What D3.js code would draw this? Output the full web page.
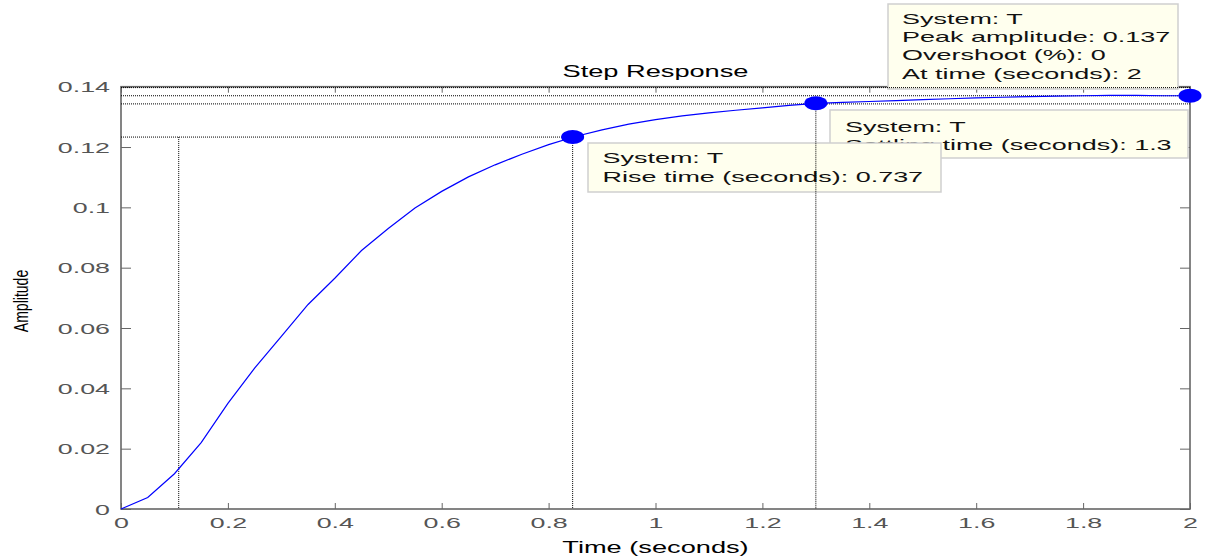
<!DOCTYPE html>
<html>
<head>
<meta charset="utf-8">
<script src="https://cdn.jsdelivr.net/npm/d3@7"></script>
<style>
  body { margin: 0; background: #fff; }
  text { font-family: "Liberation Sans", Arial, sans-serif; }
</style>
</head>
<body>
<svg id="chart"></svg>
<script>
const width = 1208;
const height = 560;

// step response samples
const times = [0, 0.05, 0.1, 0.15, 0.2, 0.25, 0.3, 0.35, 0.4, 0.45, 0.5, 0.55, 0.6, 0.65, 0.7,
    0.75, 0.8, 0.85, 0.9, 0.95, 1, 1.05, 1.1, 1.15, 1.2, 1.25, 1.3, 1.35, 1.4, 1.45, 1.5,
    1.55, 1.6, 1.65, 1.7, 1.75, 1.8, 1.85, 1.9, 1.95, 2];
const amplitude = [0, 0.0038, 0.0117, 0.0220, 0.0350, 0.0467, 0.0572, 0.0678, 0.0765, 0.0857,
    0.0930, 0.0998, 0.1053, 0.1101, 0.1141, 0.1176, 0.1208, 0.1235, 0.1257, 0.1276, 0.1291,
    0.1303, 0.1313, 0.1322, 0.1330, 0.1338, 0.1345, 0.1348, 0.1351, 0.1354, 0.1357, 0.1360,
    0.1363, 0.1365, 0.1367, 0.1369, 0.1370, 0.1371, 0.1371, 0.1370, 0.1370];

const xTicks = [0, 0.2, 0.4, 0.6, 0.8, 1, 1.2, 1.4, 1.6, 1.8, 2];
const yTicks = [0, 0.02, 0.04, 0.06, 0.08, 0.1, 0.12, 0.14];

// characteristic points
const riseTimes = [0.108, 0.845];
const riseLevel = 0.1233;
const settleTime = 1.3;
const settleValue = 0.1345;
const settleBand = [0.1343, 0.1397];
const peakPoint = [2, 0.137];

const settleTip = ["System: T", "Settling time (seconds): 1.3"];
const riseTip = ["System: T", "Rise time (seconds): 0.737"];
const peakTip = ["System: T", "Peak amplitude: 0.137", "Overshoot (%): 0", "At time (seconds): 2"];

const margin = {left: 121, right: 18, top: 86.7, bottom: 51};

const svg = d3.select("#chart").attr("width", width).attr("height", height);
svg.append("rect").attr("width", width).attr("height", height).attr("fill", "#fff");

const x = d3.scaleLinear().domain([0, 2]).range([margin.left, width - margin.right]);
const y = d3.scaleLinear().domain([0, 0.14]).range([height - margin.bottom, margin.top]);

// text in the picture is stretched sideways
function wideText(sel, px, py, str, size, sx, anchor, fill) {
    return sel.append("text")
        .attr("transform", `translate(${px},${py}) scale(${sx},1)`)
        .attr("text-anchor", anchor)
        .style("font-size", size + "px")
        .attr("fill", fill)
        .text(str);
}

const axisColor = "#666";
const fmtY = d => String(+d.toFixed(2));
const fmtX = d => String(+d.toFixed(1));

// axes with inward ticks
const gLeft = svg.append("g").attr("transform", `translate(${margin.left},0)`)
    .call(d3.axisLeft(y).tickValues(yTicks).tickSize(-10).tickFormat(fmtY));
const gBottom = svg.append("g").attr("transform", `translate(0,${height - margin.bottom})`)
    .call(d3.axisBottom(x).tickValues(xTicks).tickSize(-6).tickFormat(fmtX));
const gTop = svg.append("g").attr("transform", `translate(0,${margin.top})`)
    .call(d3.axisTop(x).tickValues(xTicks).tickSize(-6).tickFormat(""));
const gRight = svg.append("g").attr("transform", `translate(${width - margin.right},0)`)
    .call(d3.axisRight(y).tickValues(yTicks).tickSize(-10).tickFormat(""));

[gLeft, gBottom, gTop, gRight].forEach(g => {
    g.select(".domain").remove();
    g.selectAll(".tick line").attr("stroke", axisColor).attr("stroke-width", 1);
});

gLeft.selectAll(".tick text")
    .attr("x", null).attr("dy", null)
    .attr("transform", "translate(-11,5) scale(1.85,1)")
    .attr("text-anchor", "end")
    .attr("fill", "#555")
    .style("font-size", "14.5px");
gBottom.selectAll(".tick text")
    .attr("y", null).attr("dy", null)
    .attr("transform", "translate(0,19) scale(1.85,1)")
    .attr("text-anchor", "middle")
    .attr("fill", "#555")
    .style("font-size", "14.5px");

svg.append("rect")
    .attr("x", margin.left).attr("y", margin.top)
    .attr("width", width - margin.right - margin.left)
    .attr("height", height - margin.bottom - margin.top)
    .attr("fill", "none").attr("stroke", axisColor).attr("stroke-width", 1.6);

// titles
wideText(svg, (margin.left + width - margin.right) / 2, 77, "Step Response", 17, 1.6, "middle", "#000");
wideText(svg, (margin.left + width - margin.right) / 2, 553, "Time (seconds)", 17, 1.6, "middle", "#000");
svg.append("text")
    .attr("transform", "translate(28,301) rotate(-90) scale(0.78,1.08)")
    .attr("text-anchor", "middle")
    .style("font-size", "18px")
    .attr("fill", "#000")
    .text("Amplitude");

// data tips
function drawTip(x0, y0, w, h, lines, tx, ty, step) {
    const g = svg.append("g");
    g.append("rect")
        .attr("x", x0).attr("y", y0).attr("width", w).attr("height", h)
        .attr("fill", "#ffffee").attr("stroke", "#cfcfcf").attr("stroke-width", 1.5);
    lines.forEach((s, i) => wideText(g, tx, ty + i * step, s, 14.5, 1.86, "start", "#111"));
}
drawTip(830, 110, 358, 48, settleTip, 845, 131.5, 18.8);
drawTip(588, 143, 353, 49, riseTip, 602.5, 163.3, 18.8);
drawTip(888, 4, 290, 85, peakTip, 902, 24, 18.2);

// characteristic lines
const dotted = g => g.attr("stroke", "#000").attr("stroke-width", 1).attr("stroke-dasharray", "1,1").attr("fill", "none");
const lines = svg.append("g");
lines.append("line").call(dotted)
    .attr("x1", x(0)).attr("x2", x(riseTimes[1])).attr("y1", y(riseLevel)).attr("y2", y(riseLevel));
riseTimes.forEach(t => {
    lines.append("line").call(dotted)
        .attr("x1", x(t)).attr("x2", x(t)).attr("y1", y(riseLevel)).attr("y2", y(0));
});
lines.append("line").call(dotted)
    .attr("x1", x(settleTime)).attr("x2", x(settleTime)).attr("y1", y(settleValue)).attr("y2", y(0));
settleBand.forEach(v => {
    lines.append("line").call(dotted)
        .attr("x1", x(0)).attr("x2", x(2)).attr("y1", y(v)).attr("y2", y(v));
});
lines.append("line").call(dotted)
    .attr("x1", x(0)).attr("x2", x(peakPoint[0])).attr("y1", y(peakPoint[1])).attr("y2", y(peakPoint[1]));

// response curve
const line = d3.line().x((d, i) => x(times[i])).y(d => y(d));
svg.append("path")
    .datum(amplitude)
    .attr("d", line)
    .attr("fill", "none")
    .attr("stroke", "#0000ff")
    .attr("stroke-width", 1.2);

// markers
const markers = [[riseTimes[1], riseLevel], [settleTime, settleValue], peakPoint];
svg.append("g").selectAll("ellipse")
    .data(markers)
    .enter()
    .append("ellipse")
    .attr("cx", d => x(d[0]))
    .attr("cy", d => y(d[1]))
    .attr("rx", 11.5)
    .attr("ry", 7)
    .attr("fill", "#0000ff");
</script>
</body>
</html>
